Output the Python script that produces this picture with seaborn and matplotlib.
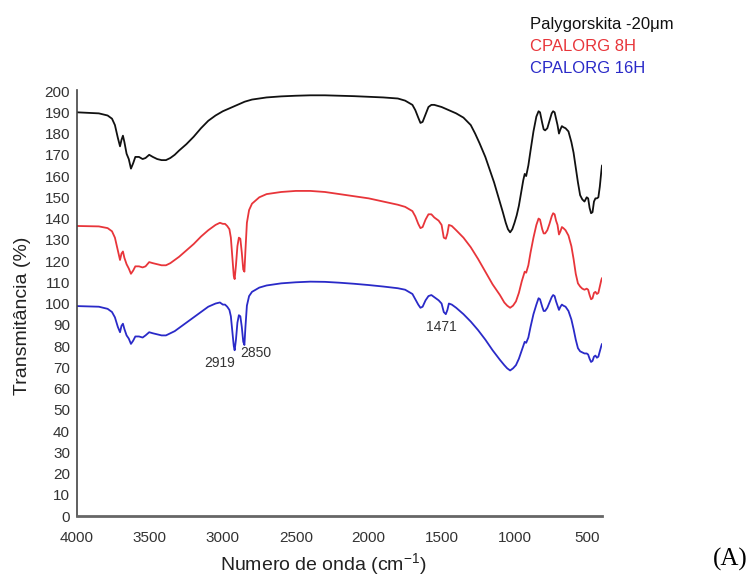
import numpy as np
import pandas as pd
import matplotlib
matplotlib.use("Agg")
import matplotlib.pyplot as plt
import seaborn as sns

# ---------------- data ----------------
black_w = [4000, 3850, 3790, 3760, 3740, 3720, 3705, 3695, 3685, 3675, 3660, 3645, 3630, 3615,
           3600, 3575, 3550, 3530, 3505, 3480, 3450, 3420, 3390, 3360, 3330, 3300, 3250, 3200,
           3150, 3100, 3050, 3000, 2950, 2900, 2850, 2800, 2700, 2600, 2500, 2400, 2300, 2200,
           2100, 2000, 1900, 1800, 1750, 1700, 1680, 1660, 1645, 1630, 1610, 1590, 1570, 1550,
           1500, 1450, 1400, 1350, 1300, 1270, 1240, 1200, 1170, 1140, 1110, 1080, 1060, 1045,
           1030, 1015, 1000, 985, 970, 955, 940, 930, 920, 905, 890, 870, 850, 835, 825, 810,
           800, 790, 775, 760, 745, 735, 725, 715, 705, 695, 685, 675, 665, 650, 630, 610, 595,
           580, 565, 550, 535, 520, 505, 495, 485, 475, 465, 455, 445, 435, 425, 415, 405, 400]
black_t = [190, 189.5, 188.5, 187, 184, 178, 174, 177, 179, 176, 170.5, 168, 163.5, 166,
           169, 169, 168, 168.5, 170, 169, 168, 167.5, 167.5, 168.5, 170, 172, 175, 178.5,
           182.5, 186, 188.5, 190.5, 192, 193.5, 195, 196, 197, 197.5, 197.8, 198, 198, 197.8,
           197.6, 197.3, 197, 196.5, 195.5, 193.5, 191, 187.5, 185, 185.5, 189, 192.5, 193.5, 193.5,
           192.5, 191, 189.5, 187.5, 184, 180, 175.5, 169, 163, 157, 150, 143, 138, 135,
           133.5, 135, 138, 141.5, 146, 152, 158, 161, 160, 165, 172, 181, 188, 190.5, 190, 185,
           182, 181.5, 182.5, 186, 189.5, 190.5, 190, 187, 184, 180, 182, 183.5, 183, 182.5, 181, 176, 171,
           164, 157, 151, 149, 148, 150, 149.5, 145, 142.5, 143, 148, 149.5, 149.5, 150, 155, 162, 165]

red_w = [4000, 3850, 3790, 3760, 3740, 3720, 3705, 3695, 3685, 3675, 3660, 3645, 3630, 3615,
         3600, 3575, 3550, 3530, 3505, 3480, 3450, 3420, 3390, 3360, 3330, 3300, 3250, 3200,
         3150, 3100, 3050, 3020, 3000, 2985, 2970, 2955, 2945, 2935, 2925, 2919, 2910, 2900,
         2890, 2880, 2870, 2860, 2852, 2845, 2835, 2820, 2800, 2750, 2700, 2600, 2500, 2400,
         2300, 2200, 2100, 2000, 1900, 1800, 1750, 1700, 1680, 1660, 1645, 1630, 1610, 1590,
         1570, 1550, 1520, 1500, 1485, 1471, 1460, 1450, 1430, 1400, 1350, 1300, 1250, 1200,
         1150, 1100, 1070, 1050, 1030, 1010, 990, 970, 950, 930, 920, 905, 890, 870, 850, 835,
         825, 810, 800, 790, 775, 760, 745, 735, 725, 715, 705, 695, 685, 675, 665, 650, 630,
         610, 595, 580, 565, 550, 535, 520, 505, 495, 485, 475, 465, 455, 445, 435, 425, 415, 405, 400]
red_t = [136.5, 136.3, 135.5, 134, 131, 125, 120.5, 123.5, 124.5, 121.5, 118.5, 116.5, 114, 115.5,
         117.5, 117.5, 117, 117.5, 119.5, 119, 118.5, 118, 118, 119, 120.5, 122, 125, 128,
         131.5, 134.5, 137, 138, 137.5, 137.5, 136.5, 135, 131, 122, 113, 111.5, 118, 127,
         131, 130.5, 124, 116, 115, 125, 138, 144, 147, 150, 151.5, 152.5, 153, 153,
         152.5, 151.5, 150.5, 149.5, 148, 146.5, 145.5, 143.5, 141, 137.5, 135.5, 136, 139.5, 142,
         142, 140.5, 139, 137, 131, 130.5, 133, 137, 136.5, 134.5, 131, 126.5, 121, 115,
         109, 104, 100.5, 99, 98, 99, 101, 105, 110.5, 115, 114.5, 118, 124, 131, 137, 140,
         139.5, 135, 133, 133, 134.5, 137.5, 141, 142.5, 142, 139, 137, 132.5, 134, 136, 135.5, 134.5, 132,
         127, 121, 114, 109.5, 108, 107, 106.5, 107, 106.5, 104, 102, 102.5, 105, 105.5, 104.5, 105, 108, 111, 112]

blue_w = red_w
blue_t = [98.8, 98.5, 97.5, 96, 93.5, 89, 86.5, 89.5, 90.5, 88, 85, 83.5, 81, 82.5,
          84.5, 84.5, 84, 85, 86.5, 86, 85.5, 85, 85, 86, 87, 88.5, 91, 93.5,
          96, 98.5, 100, 100.5, 99.5, 99.5, 98.5, 97, 94, 87, 80, 78, 83, 91,
          94.5, 94, 89, 82, 80.5, 89, 99, 103.5, 105.5, 107.5, 108.5, 109.5, 110, 110.3,
          110.2, 109.8, 109.3, 108.7, 108, 107.2, 106.5, 104.5, 102, 99.5, 98, 98.5, 101.5, 103.5,
          104, 103, 101.5, 100, 96, 95, 97, 100, 99.5, 98, 95, 91.5, 87.5, 83,
          78, 73.5, 71, 69.5, 68.5, 69.5, 71, 74, 78, 82, 81.5, 84, 89, 95, 99.5, 102.5,
          102, 98.5, 96.5, 96.5, 98, 100.5, 103, 104, 103.5, 101, 99, 97, 98.5, 99.5, 99, 98.5, 96.5,
          92.5, 88, 83, 79, 77.5, 77, 76.5, 76.5, 76, 74, 72.5, 73, 75, 75.5, 74.5, 75, 77.5, 80, 81]

series_names = ["Palygorskita -20\u03bcm", "CPALORG 8H", "CPALORG 16H"]
series_colors = ["#111111", "#e8353a", "#2a2ac8"]

x_ticks = [4000, 3500, 3000, 2500, 2000, 1500, 1000, 500]
y_ticks = list(range(0, 201, 10))

peak_labels = ["2919", "2850", "1471"]
peak_pos = [(3019, 72.2), (2775, 76.6), (1499, 89.0)]

# ---------------- build table ----------------
frames = []
for name, w, t in zip(series_names, [black_w, red_w, blue_w], [black_t, red_t, blue_t]):
    frames.append(pd.DataFrame({"w": w, "t": t, "s": name}))
df = pd.concat(frames, ignore_index=True)

# ---------------- plot ----------------
sns.set_style("white")
plt.rcParams["font.family"] = ["Liberation Sans", "DejaVu Sans"]
plt.rcParams["mathtext.fontset"] = "custom"
plt.rcParams["mathtext.rm"] = "Liberation Sans"

fig = plt.figure(figsize=(7.5, 5.76), dpi=100)
ax = fig.add_axes([77 / 750, 1 - 516 / 576, 525 / 750, 426 / 576])

sns.lineplot(data=df, x="w", y="t", hue="s", palette=dict(zip(series_names, series_colors)),
             estimator=None, sort=False, linewidth=1.3, legend=False, ax=ax)

ax.set_xlim(4000, 400)
ax.set_ylim(0, 200.5)
ax.set_xticks(x_ticks)
ax.set_xticklabels([str(v) for v in x_ticks])
ax.set_yticks(y_ticks)
ax.set_yticklabels([str(v) for v in y_ticks])
ax.tick_params(axis="both", length=0, labelsize=11, colors="#333333")
ax.tick_params(axis="x", pad=11)
ax.tick_params(axis="y", pad=5)

for sp in ["top", "right"]:
    ax.spines[sp].set_visible(False)
ax.spines["left"].set_color("#444444")
ax.spines["left"].set_linewidth(1.2)
ax.spines["bottom"].set_color("#666666")
ax.spines["bottom"].set_linewidth(2.0)

ax.set_xlabel("Numero de onda (cm$^{\\mathregular{-1}}$)", fontsize=14, color="#222222")
ax.set_ylabel("Transmitância (%)", fontsize=14, color="#222222")
ax.xaxis.set_label_coords(0.469, -0.082)
ax.yaxis.set_label_coords(-0.088, 0.47)

for lab, (px, py) in zip(peak_labels, peak_pos):
    ax.text(px, py, lab, ha="center", va="center", fontsize=10, color="#333333")

legend_y = [0.958, 0.919, 0.881]
for name, col, yy in zip(series_names, series_colors, legend_y):
    fig.text(530 / 750, yy, name, color=col, fontsize=12, va="center", ha="left")

fig.text(0.973, 0.028, "(A)", fontsize=18, family=["Liberation Serif", "DejaVu Serif"],
         ha="center", va="center", color="black")

fig.savefig("out.png", dpi=100)
